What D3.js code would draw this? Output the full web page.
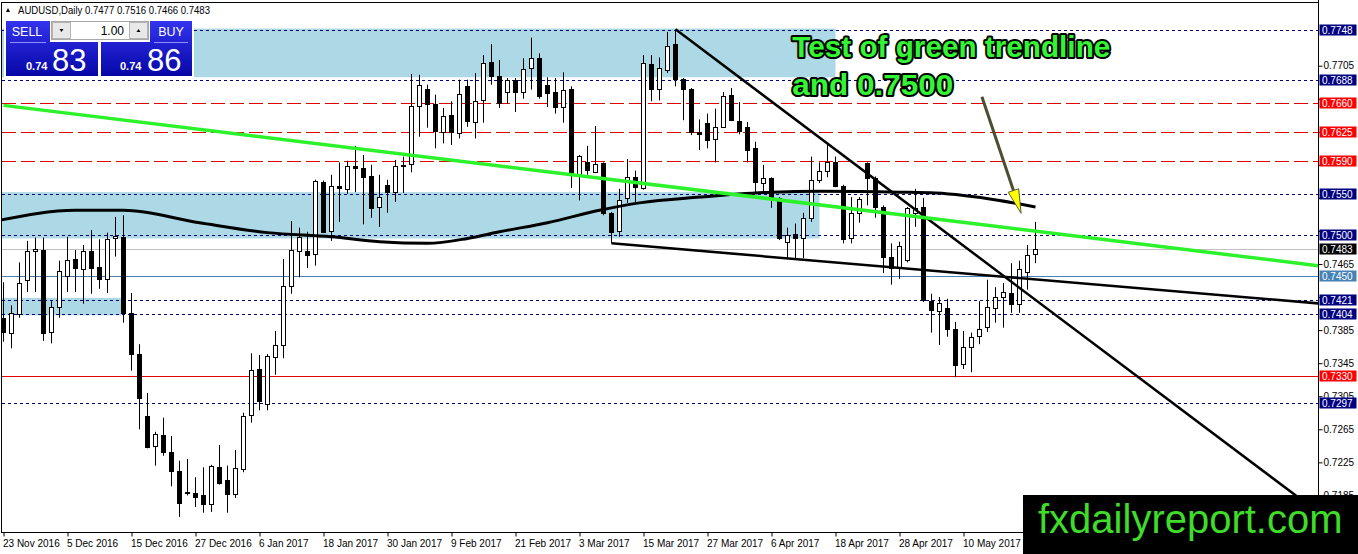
<!DOCTYPE html>
<html>
<head>
<meta charset="utf-8">
<script src="https://cdn.jsdelivr.net/npm/d3@7"></script>
<style>
  body { margin: 0; background: #fff; }
  svg { display: block; font-family: "Liberation Sans", Arial, sans-serif; }
</style>
</head>
<body>
<div id="chart"></div>
<script>
// ---- data ----
const symbol = "AUDUSD,Daily";

const dateLabels = ["23 Nov 2016", "5 Dec 2016", "15 Dec 2016", "27 Dec 2016", "6 Jan 2017",
    "18 Jan 2017", "30 Jan 2017", "9 Feb 2017", "21 Feb 2017", "3 Mar 2017", "15 Mar 2017",
    "27 Mar 2017", "6 Apr 2017", "18 Apr 2017", "28 Apr 2017", "10 May 2017"];

const priceTicks = [0.7705, 0.7665, 0.7625, 0.7585, 0.7545, 0.7505, 0.7465, 0.7425,
    0.7385, 0.7345, 0.7305, 0.7265, 0.7225, 0.7185];

// daily candles: [open, high, low, close]
const candles = [
    [0.7400, 0.7443, 0.7371, 0.7383], [0.7382, 0.7415, 0.7363, 0.7406], [0.7405, 0.7467, 0.7400, 0.7442],
    [0.7446, 0.7493, 0.7431, 0.7481], [0.7481, 0.7497, 0.7431, 0.7483], [0.7482, 0.7497, 0.7372, 0.7382],
    [0.7383, 0.7420, 0.7369, 0.7413], [0.7413, 0.7469, 0.7400, 0.7457], [0.7451, 0.7498, 0.7431, 0.7470],
    [0.7471, 0.7482, 0.7431, 0.7460], [0.7459, 0.7488, 0.7417, 0.7481], [0.7481, 0.7506, 0.7429, 0.7461],
    [0.7461, 0.7495, 0.7435, 0.7447], [0.7446, 0.7503, 0.7430, 0.7495], [0.7496, 0.7522, 0.7474, 0.7499],
    [0.7498, 0.7524, 0.7394, 0.7406], [0.7406, 0.7430, 0.7336, 0.7356], [0.7356, 0.7368, 0.7265, 0.7303],
    [0.7281, 0.7309, 0.7242, 0.7244], [0.7245, 0.7262, 0.7221, 0.7259], [0.7258, 0.7279, 0.7233, 0.7238],
    [0.7238, 0.7257, 0.7196, 0.7215], [0.7215, 0.7227, 0.7159, 0.7176], [0.7189, 0.7229, 0.7185, 0.7188],
    [0.7188, 0.7207, 0.7171, 0.7183], [0.7186, 0.7219, 0.7164, 0.7175], [0.7175, 0.7222, 0.7165, 0.7221],
    [0.7219, 0.7246, 0.7198, 0.7200], [0.7204, 0.7221, 0.7164, 0.7187], [0.7186, 0.7240, 0.7182, 0.7218],
    [0.7217, 0.7285, 0.7213, 0.7281], [0.7282, 0.7357, 0.7273, 0.7337], [0.7338, 0.7355, 0.7288, 0.7299],
    [0.7296, 0.7356, 0.7288, 0.7354], [0.7353, 0.7384, 0.7331, 0.7367], [0.7366, 0.7471, 0.7351, 0.7438],
    [0.7438, 0.7517, 0.7429, 0.7482], [0.7481, 0.7509, 0.7449, 0.7498], [0.7481, 0.7504, 0.7460, 0.7476],
    [0.7477, 0.7567, 0.7463, 0.7565], [0.7564, 0.7566, 0.7503, 0.7504], [0.7504, 0.7573, 0.7493, 0.7559],
    [0.7560, 0.7588, 0.7516, 0.7557], [0.7556, 0.7590, 0.7550, 0.7584], [0.7584, 0.7608, 0.7552, 0.7581],
    [0.7581, 0.7597, 0.7513, 0.7570], [0.7572, 0.7585, 0.7521, 0.7533], [0.7534, 0.7573, 0.7510, 0.7546],
    [0.7561, 0.7567, 0.7527, 0.7553], [0.7552, 0.7591, 0.7540, 0.7584], [0.7584, 0.7595, 0.7551, 0.7585],
    [0.7586, 0.7695, 0.7576, 0.7656], [0.7656, 0.7694, 0.7619, 0.7682], [0.7677, 0.7682, 0.7630, 0.7659],
    [0.7659, 0.7670, 0.7605, 0.7626], [0.7625, 0.7654, 0.7611, 0.7644], [0.7645, 0.7662, 0.7609, 0.7625],
    [0.7624, 0.7688, 0.7617, 0.7671], [0.7680, 0.7688, 0.7631, 0.7638], [0.7637, 0.7696, 0.7617, 0.7662],
    [0.7663, 0.7718, 0.7636, 0.7708], [0.7709, 0.7731, 0.7682, 0.7692], [0.7693, 0.7712, 0.7654, 0.7660],
    [0.7673, 0.7690, 0.7659, 0.7688], [0.7688, 0.7690, 0.7649, 0.7673], [0.7673, 0.7714, 0.7665, 0.7701],
    [0.7702, 0.7739, 0.7676, 0.7714], [0.7714, 0.7720, 0.7665, 0.7668], [0.7682, 0.7691, 0.7655, 0.7672],
    [0.7673, 0.7690, 0.7647, 0.7655], [0.7656, 0.7697, 0.7636, 0.7676], [0.7677, 0.7680, 0.7557, 0.7574],
    [0.7574, 0.7597, 0.7542, 0.7596], [0.7588, 0.7608, 0.7573, 0.7578], [0.7576, 0.7632, 0.7575, 0.7586],
    [0.7587, 0.7588, 0.7524, 0.7527], [0.7527, 0.7528, 0.7490, 0.7504], [0.7504, 0.7556, 0.7498, 0.7542],
    [0.7545, 0.7592, 0.7539, 0.7570], [0.7570, 0.7578, 0.7539, 0.7558], [0.7557, 0.7718, 0.7555, 0.7708],
    [0.7707, 0.7718, 0.7662, 0.7677], [0.7677, 0.7715, 0.7663, 0.7702], [0.7700, 0.7746, 0.7696, 0.7729],
    [0.7731, 0.7749, 0.7680, 0.7689], [0.7689, 0.7690, 0.7639, 0.7677], [0.7677, 0.7678, 0.7621, 0.7625],
    [0.7625, 0.7640, 0.7603, 0.7622], [0.7636, 0.7647, 0.7605, 0.7616], [0.7617, 0.7653, 0.7588, 0.7631],
    [0.7631, 0.7673, 0.7630, 0.7668], [0.7670, 0.7678, 0.7638, 0.7640], [0.7638, 0.7661, 0.7622, 0.7626],
    [0.7631, 0.7637, 0.7588, 0.7603], [0.7605, 0.7613, 0.7551, 0.7564], [0.7563, 0.7585, 0.7551, 0.7569],
    [0.7569, 0.7570, 0.7533, 0.7545], [0.7545, 0.7546, 0.7494, 0.7496], [0.7492, 0.7509, 0.7472, 0.7500],
    [0.7501, 0.7514, 0.7472, 0.7496], [0.7497, 0.7527, 0.7472, 0.7521], [0.7521, 0.7595, 0.7516, 0.7567],
    [0.7567, 0.7588, 0.7563, 0.7578], [0.7577, 0.7609, 0.7570, 0.7588], [0.7588, 0.7595, 0.7558, 0.7559],
    [0.7559, 0.7561, 0.7490, 0.7495], [0.7497, 0.7546, 0.7490, 0.7527], [0.7527, 0.7546, 0.7515, 0.7544],
    [0.7587, 0.7588, 0.7536, 0.7569], [0.7569, 0.7571, 0.7521, 0.7534], [0.7534, 0.7536, 0.7454, 0.7474],
    [0.7474, 0.7490, 0.7440, 0.7461], [0.7461, 0.7492, 0.7447, 0.7487], [0.7470, 0.7534, 0.7467, 0.7533],
    [0.7527, 0.7556, 0.7510, 0.7533], [0.7534, 0.7545, 0.7419, 0.7421], [0.7420, 0.7429, 0.7382, 0.7409],
    [0.7408, 0.7425, 0.7367, 0.7418], [0.7412, 0.7423, 0.7377, 0.7386], [0.7386, 0.7395, 0.7328, 0.7343],
    [0.7344, 0.7384, 0.7338, 0.7365], [0.7365, 0.7382, 0.7334, 0.7377], [0.7378, 0.7420, 0.7368, 0.7386],
    [0.7389, 0.7446, 0.7383, 0.7413], [0.7412, 0.7437, 0.7394, 0.7425], [0.7425, 0.7442, 0.7388, 0.7431],
    [0.7430, 0.7466, 0.7406, 0.7417], [0.7417, 0.7469, 0.7406, 0.7459], [0.7455, 0.7488, 0.7434, 0.7476],
    [0.7477, 0.7516, 0.7466, 0.7483]
];

// moving average (bar index, price)
const maIndex  = [-0.5, 9, 15, 24.5, 33, 41, 47, 53, 58, 62, 68, 74.5, 79.5, 87, 96, 102, 112, 116.5, 124.5, 129];
const maValues = [0.7518, 0.7530, 0.7530, 0.7515, 0.7503, 0.7498, 0.7492, 0.7490, 0.7496, 0.7504,
    0.7515, 0.7530, 0.7539, 0.7546, 0.7552, 0.7553, 0.7552, 0.7551, 0.7542, 0.7534];

const navyLevels = [0.7748, 0.7688, 0.7550, 0.7500, 0.7421, 0.7404, 0.7297];
const redDashLevels = [0.7660, 0.7625, 0.7590];
const redSolidLevel = 0.7330;
const blueSolidLevel = 0.7450;
const bidLevel = 0.7483;

const zoneTops    = [0.7750, 0.7552, 0.7424];
const zoneBottoms = [0.7691, 0.7496, 0.7403];
const zoneEnds    = [104, 102, 15];

const greenTrend = [[0, 0.7657], [166, 0.7461]];
const downTrend  = [[84, 0.7749], [164, 0.7167]];
const lowerTrend = [[76, 0.7490], [166, 0.7416]];

const arrowFrom = [122.3, 0.76675];
const arrowTo   = [127.2, 0.75264];
const noteLines = ["Test of green trendline", "and 0.7500"];
const notePos   = [[98.6, 0.77155], [98.6, 0.76695]];

// ---- layout ----
const W = 1358, H = 554;
const plotL = 2, plotR = 1318, plotT = 2, plotB = 532;

const svg = d3.select("#chart").append("svg")
    .attr("width", W)
    .attr("height", H);

const x = d3.scaleLinear().domain([0, 129]).range([3.5, 3.5 + 8 * 129]);
const y = d3.scaleLinear().domain([0.7265, 0.7705]).range([429.3, 65.7]);
const py = p => Math.round(y(p)) + 0.5;

const defs = svg.append("defs");
defs.append("clipPath").attr("id", "plot")
    .append("rect").attr("x", plotL).attr("y", plotT)
    .attr("width", plotR - plotL).attr("height", plotB - plotT);

var g = svg.append("g").attr("clip-path", "url(#plot)");

// zones
g.selectAll(".zone")
    .data(zoneTops.map((t, i) => ({hi: t, lo: zoneBottoms[i], end: zoneEnds[i]})))
    .enter().append("rect")
    .attr("x", x(-1))
    .attr("y", d => y(d.hi))
    .attr("width", d => x(d.end) - x(-1))
    .attr("height", d => y(d.lo) - y(d.hi))
    .attr("fill", "#add8e6");

// horizontal levels
function hline(p, color, dash) {
    g.append("line")
        .attr("x1", plotL).attr("x2", plotR)
        .attr("y1", py(p)).attr("y2", py(p))
        .attr("stroke", color)
        .attr("stroke-width", 1)
        .attr("shape-rendering", "crispEdges")
        .attr("stroke-dasharray", dash || null);
}
hline(bidLevel, "#c0c0c0");
hline(blueSolidLevel, "#4682b4");
hline(redSolidLevel, "#e00000");
redDashLevels.forEach(p => hline(p, "#e00000", "14,5"));
navyLevels.forEach(p => hline(p, "#000080", "3,3"));

// candles
var cg = g.append("g");
cg.selectAll(".wick")
    .data(candles)
    .enter().append("line")
    .attr("x1", (d, i) => x(i)).attr("x2", (d, i) => x(i))
    .attr("y1", d => y(d[1])).attr("y2", d => y(d[2]))
    .attr("stroke", "#000").attr("stroke-width", 1);

cg.selectAll(".body")
    .data(candles)
    .enter().append("rect")
    .attr("x", (d, i) => x(i) - 2)
    .attr("width", 4)
    .attr("y", d => Math.round(y(Math.max(d[0], d[3]))) + 0.5)
    .attr("height", d => Math.max(0.5, Math.round(Math.abs(y(d[0]) - y(d[3])))))
    .attr("fill", d => d[3] >= d[0] ? "#fff" : "#000")
    .attr("stroke", "#000").attr("stroke-width", 1);

// moving average
var maLine = d3.line()
    .x(d => x(d[0]))
    .y(d => y(d[1]))
    .curve(d3.curveMonotoneX);
g.append("path")
    .datum(maIndex.map((v, i) => [v, maValues[i]]))
    .attr("d", maLine)
    .attr("fill", "none")
    .attr("stroke", "#000")
    .attr("stroke-width", 3);

// trendlines
var straight = d3.line().x(d => x(d[0])).y(d => y(d[1]));
g.append("path").datum(lowerTrend).attr("d", straight)
    .attr("stroke", "#000").attr("stroke-width", 2.5).attr("fill", "none");
g.append("path").datum(downTrend).attr("d", straight)
    .attr("stroke", "#000").attr("stroke-width", 2.5).attr("fill", "none");
g.append("path").datum(greenTrend).attr("d", straight)
    .attr("stroke", "#2cf22c").attr("stroke-width", 3.5).attr("fill", "none");

// arrow
var ax0 = x(arrowFrom[0]), ay0 = y(arrowFrom[1]);
var ax1 = x(arrowTo[0]), ay1 = y(arrowTo[1]);
var len = Math.hypot(ax1 - ax0, ay1 - ay0);
var ux = (ax1 - ax0) / len, uy = (ay1 - ay0) / len;
var bx = ax1 - 24 * ux, by = ay1 - 24 * uy;
g.append("line")
    .attr("x1", ax0).attr("y1", ay0).attr("x2", bx).attr("y2", by)
    .attr("stroke", "#4d4d30").attr("stroke-width", 3);
g.append("polygon")
    .attr("points", [[ax1, ay1], [bx - 5.5 * uy, by + 5.5 * ux], [bx + 5.5 * uy, by - 5.5 * ux]].join(" "))
    .attr("fill", "#ffff00").attr("stroke", "#5a5a30").attr("stroke-width", 1);

// annotation
svg.selectAll(".note")
    .data(noteLines)
    .enter().append("text")
    .attr("x", (d, i) => x(notePos[i][0]))
    .attr("y", (d, i) => y(notePos[i][1]))
    .attr("textLength", (d, i) => i == 0 ? 318 : 161)
    .attr("lengthAdjust", "spacingAndGlyphs")
    .attr("font-size", "30px")
    .attr("font-weight", "bold")
    .attr("fill", "#33f533")
    .attr("stroke", "#000")
    .attr("stroke-width", 4)
    .attr("stroke-linejoin", "round")
    .attr("paint-order", "stroke")
    .text(d => d);

// frame
var frame = svg.append("g").attr("stroke", "#000").attr("stroke-width", 1);
frame.append("line").attr("x1", 1.5).attr("x2", 1.5).attr("y1", 2).attr("y2", plotB + 1);
frame.append("line").attr("x1", 1.5).attr("x2", plotR + 0.5).attr("y1", 2.5).attr("y2", 2.5);
frame.append("line").attr("x1", 1.5).attr("x2", plotR + 0.5).attr("y1", plotB + 0.5).attr("y2", plotB + 0.5);
frame.append("line").attr("x1", plotR + 0.5).attr("x2", plotR + 0.5).attr("y1", 0).attr("y2", plotB + 1);

// time axis
var xAxis = svg.append("g")
    .attr("transform", "translate(0," + (plotB + 0.5) + ")")
    .call(d3.axisBottom(x)
        .tickValues(d3.range(0, 121, 8))
        .tickSize(4)
        .tickFormat((d, i) => dateLabels[i]));
xAxis.select(".domain").remove();
xAxis.selectAll("text")
    .attr("text-anchor", "start")
    .attr("dx", "-1")
    .attr("font-size", "10px")
    .attr("font-family", "'Liberation Sans', Arial, sans-serif");

// price labels on the axis
var tags = navyLevels.map(p => ({p: p, c: "#000080"}))
    .concat(redDashLevels.map(p => ({p: p, c: "#ff0000"})))
    .concat([{p: redSolidLevel, c: "#ff0000"}, {p: blueSolidLevel, c: "#4682b4"}, {p: bidLevel, c: "#000"}]);

// price axis
var yAxis = svg.append("g")
    .attr("transform", "translate(" + (plotR + 0.5) + ",0)")
    .call(d3.axisRight(y)
        .tickValues(priceTicks)
        .tickSize(4)
        .tickPadding(1)
        .tickFormat(d3.format(".4f")));
yAxis.select(".domain").remove();
yAxis.selectAll("text")
    .attr("font-size", "10px")
    .attr("font-family", "'Liberation Sans', Arial, sans-serif");
// tick texts sitting under a price tag are hidden by it
yAxis.selectAll(".tick text")
    .filter(d => tags.some(t => Math.abs(y(t.p) - y(d)) < 6.5))
    .remove();

var tg = svg.append("g").selectAll("g").data(tags).enter().append("g");
tg.append("rect")
    .attr("x", plotR + 1.5).attr("width", 37)
    .attr("y", d => py(d.p) - 6).attr("height", 11)
    .attr("fill", d => d.c);
tg.append("text")
    .attr("x", plotR + 4).attr("y", d => py(d.p))
    .attr("dy", "0.36em")
    .attr("font-size", "10px")
    .attr("fill", "#fff")
    .text(d => d3.format(".4f")(d.p));

// header
var last = candles[candles.length - 1];
svg.append("path").attr("d", "M6,12 L10,12 L8,8 Z").attr("fill", "#000");
svg.append("text")
    .attr("x", 18).attr("y", 14)
    .attr("font-size", "11px")
    .attr("textLength", 192).attr("lengthAdjust", "spacingAndGlyphs")
    .text(symbol + " " + last.map(d3.format(".4f")).join(" "));

// one-click trading panel
var grad = defs.append("linearGradient")
    .attr("id", "panel").attr("gradientUnits", "userSpaceOnUse")
    .attr("x1", 0).attr("y1", 20).attr("x2", 0).attr("y2", 77);
grad.append("stop").attr("offset", 0).attr("stop-color", "#3434f0");
grad.append("stop").attr("offset", 1).attr("stop-color", "#0606a6");

var panel = svg.append("g");
panel.append("rect").attr("x", 4).attr("y", 19).attr("width", 190).attr("height", 59).attr("fill", "#fff");
[[6, 21, 44, 22], [6, 42, 92, 34], [150, 21, 42, 22], [101, 42, 91, 34]].forEach(r => {
    panel.append("rect").attr("x", r[0]).attr("y", r[1]).attr("width", r[2]).attr("height", r[3])
        .attr("fill", "url(#panel)");
});
panel.append("line").attr("x1", 10).attr("x2", 46).attr("y1", 42.5).attr("y2", 42.5).attr("stroke", "#8f8fff");
panel.append("line").attr("x1", 154).attr("x2", 188).attr("y1", 42.5).attr("y2", 42.5).attr("stroke", "#8f8fff");
panel.append("rect").attr("x", 51.5).attr("y", 21.5).attr("width", 97).attr("height", 18)
    .attr("fill", "#fff").attr("stroke", "#a8a8a8");
panel.append("rect").attr("x", 52.5).attr("y", 22.5).attr("width", 18).attr("height", 16)
    .attr("fill", "#e8e8e8").attr("stroke", "#b4b4b4");
panel.append("rect").attr("x", 129.5).attr("y", 22.5).attr("width", 18).attr("height", 16)
    .attr("fill", "#e8e8e8").attr("stroke", "#b4b4b4");
panel.append("path").attr("d", "M59.5,29 L63.5,29 L61.5,32 Z").attr("fill", "#000");
panel.append("path").attr("d", "M136.5,32 L140.5,32 L138.5,29 Z").attr("fill", "#000");
panel.append("text").attr("x", 124).attr("y", 35).attr("text-anchor", "end")
    .attr("font-size", "12px").text("1.00");
panel.append("text").attr("x", 27).attr("y", 36).attr("text-anchor", "middle")
    .attr("font-size", "12.5px").attr("fill", "#fff").text("SELL");
panel.append("text").attr("x", 171).attr("y", 36).attr("text-anchor", "middle")
    .attr("font-size", "12.5px").attr("fill", "#fff").text("BUY");
[[26, 52, "83"], [120, 147, "86"]].forEach(q => {
    panel.append("text").attr("x", q[0]).attr("y", 70).attr("font-size", "11px")
        .attr("font-weight", "bold").attr("fill", "#fff").text("0.74");
    panel.append("text").attr("x", q[1]).attr("y", 71).attr("font-size", "31px")
        .attr("fill", "#fff").text(q[2]);
});

// watermark
svg.append("rect").attr("x", 1023).attr("y", 495).attr("width", W - 1023).attr("height", H - 495)
    .attr("fill", "#000");
svg.append("text").attr("x", 1038).attr("y", 533)
    .attr("font-size", "40px").attr("fill", "#3fdc2a")
    .text("fxdailyreport.com");
</script>
</body>
</html>
